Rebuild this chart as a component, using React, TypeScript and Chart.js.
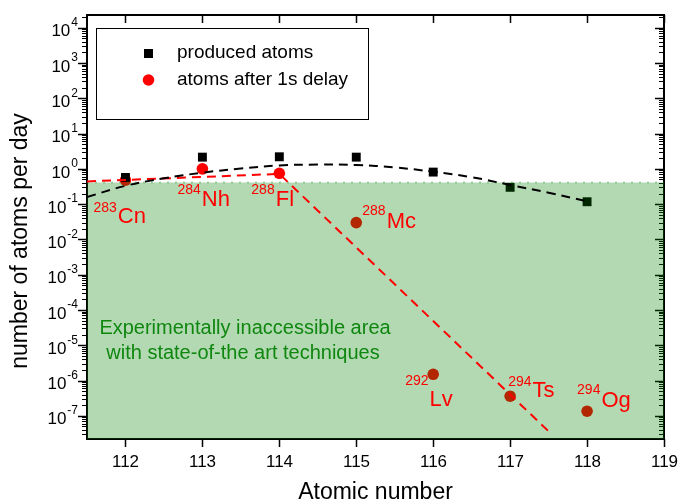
import React, { useEffect, useRef } from 'react';
import { Chart, registerables } from 'chart.js';

Chart.register(...registerables);

// ---- data ----
const elements = [112, 113, 114, 115, 116, 117, 118];
const producedAtoms = [0.57, 2.15, 2.2, 2.15, 0.81, 0.3, 0.117];
const delayedAtoms = [0.48, 1.0, 0.75, 0.03, 1.5e-6, 3.6e-7, 1.35e-7];
const isotopeMass = ['283', '284', '288', '288', '292', '294', '294'];
const isotopeSymbol = ['Cn', 'Nh', 'Fl', 'Mc', 'Lv', 'Ts', 'Og'];

const trendX = [111.5, 112, 112.5, 113, 113.5, 114, 114.5, 115, 115.5, 116, 116.5, 117, 117.5, 118];
const trendY = [0.16, 0.33, 0.54, 0.78, 1.02, 1.25, 1.32, 1.29, 1.1, 0.83, 0.58, 0.35, 0.21, 0.12];

const delayTrendX = [111.5, 114, 117.52];
const delayTrendY = [0.44, 0.72, 3.3e-8];

const limitX = [111.5, 119];
const limitY = [0.41, 0.41];

const xTicks = [112, 113, 114, 115, 116, 117, 118, 119];
const yExponents = [-7, -6, -5, -4, -3, -2, -1, 0, 1, 2, 3, 4];

const legendLabels = ['produced atoms', 'atoms after 1s delay'];
const areaText = ['Experimentally inaccessible area', 'with state-of-the art techniques'];
const xTitle = 'Atomic number';
const yTitle = 'number of atoms per day';

// label layout offsets (pixels, relative to the delayed-atom point): [supDx, supDy, baseDy]
const labelOffsets = [
  [-32, 28, 43],
  [-25, 21, 37],
  [-28, 17, 33],
  [6, -11, 5],
  [-28, 7, 32],
  [-2, -14, 1],
  [-10, -21, -4],
];

const FONT = '"Liberation Sans", Arial, sans-serif';

const overlayPlugin = {
  id: 'overlay',
  beforeDatasetsDraw(chart: any) {
    const ctx = chart.ctx as CanvasRenderingContext2D;
    const { left, right, top, bottom } = chart.chartArea;
    const xs = chart.scales.x;
    const ys = chart.scales.y;
    ctx.save();
    ctx.strokeStyle = '#000';
    ctx.lineWidth = 2;
    ctx.strokeRect(left, top, right - left, bottom - top);

    ctx.lineWidth = 1.5;
    ctx.fillStyle = '#000';
    ctx.font = `17px ${FONT}`;
    ctx.textAlign = 'center';
    ctx.textBaseline = 'middle';
    xTicks.forEach((v) => {
      const px = Math.round(xs.getPixelForValue(v)) + 0.5;
      ctx.beginPath();
      ctx.moveTo(px, bottom);
      ctx.lineTo(px, bottom + 8);
      ctx.moveTo(px, top);
      ctx.lineTo(px, top + 8);
      ctx.stroke();
      ctx.fillText(String(v), px, bottom + 23);
    });

    ctx.lineWidth = 1;
    for (let e = -8; e <= 4; e++) {
      for (let m = 1; m <= 9; m++) {
        const v = m * Math.pow(10, e);
        if (v < ys.min || v > ys.max) continue;
        const py = Math.round(ys.getPixelForValue(v)) + 0.5;
        const len = m === 1 ? 9 : 5;
        ctx.lineWidth = m === 1 ? 1.5 : 1;
        ctx.beginPath();
        ctx.moveTo(left - len, py);
        ctx.lineTo(left, py);
        ctx.moveTo(right, py);
        ctx.lineTo(right - len, py);
        ctx.stroke();
      }
    }

    yExponents.forEach((e) => {
      const py = ys.getPixelForValue(Math.pow(10, e));
      const sup = String(e).replace('-', '-');
      ctx.font = `12px ${FONT}`;
      const supW = ctx.measureText(sup).width;
      ctx.textAlign = 'right';
      ctx.fillText(sup, 78, py - 5);
      ctx.font = `17px ${FONT}`;
      ctx.fillText('10', 78 - supW - 1, py + 4);
    });

    ctx.font = `23px ${FONT}`;
    ctx.textAlign = 'center';
    ctx.fillText(xTitle, (left + right) / 2, 493);
    ctx.save();
    ctx.translate(21, 241);
    ctx.rotate(-Math.PI / 2);
    ctx.fillText(yTitle, 0, 0);
    ctx.restore();
    ctx.restore();
  },
  afterDatasetsDraw(chart: any) {
    const ctx = chart.ctx as CanvasRenderingContext2D;
    const xs = chart.scales.x;
    const ys = chart.scales.y;
    ctx.save();
    // element labels
    ctx.fillStyle = '#ff0000';
    elements.forEach((el, i) => {
      const px = xs.getPixelForValue(el);
      const py = ys.getPixelForValue(delayedAtoms[i]);
      const [dx, dsup, dbase] = labelOffsets[i];
      ctx.font = `14px ${FONT}`;
      ctx.textAlign = 'left';
      ctx.textBaseline = 'middle';
      ctx.fillText(isotopeMass[i], px + dx, py + dsup);
      const w = ctx.measureText(isotopeMass[i]).width;
      ctx.font = `22px ${FONT}`;
      ctx.textBaseline = 'alphabetic';
      ctx.fillText(isotopeSymbol[i], px + dx + w + 1, py + dbase);
    });

    // area text
    ctx.fillStyle = '#0f870f';
    ctx.font = `20px ${FONT}`;
    ctx.textAlign = 'center';
    ctx.textBaseline = 'middle';
    ctx.fillText(areaText[0], 245, 328);
    ctx.fillText(areaText[1], 243, 353);

    // legend
    ctx.strokeStyle = '#000';
    ctx.lineWidth = 1;
    ctx.strokeRect(96.5, 28.5, 272, 91);
    ctx.fillStyle = '#000';
    ctx.fillRect(144, 49, 9, 9);
    ctx.fillStyle = '#ff0000';
    ctx.beginPath();
    ctx.arc(148.5, 80, 5.8, 0, Math.PI * 2);
    ctx.fill();
    ctx.fillStyle = '#000';
    ctx.font = `19px ${FONT}`;
    ctx.textAlign = 'left';
    ctx.fillText(legendLabels[0], 177, 53);
    ctx.fillText(legendLabels[1], 177, 80);
    ctx.restore();
  },
};

export default function App() {
  const ref = useRef<HTMLCanvasElement>(null);
  useEffect(() => {
    if (!ref.current) return;
    const chart = new Chart(ref.current, {
      type: 'scatter',
      data: {
        datasets: [
          {
            label: legendLabels[0],
            data: elements.map((x, i) => ({ x, y: producedAtoms[i] })),
            pointStyle: 'rect',
            pointRadius: 6.3,
            backgroundColor: '#000',
            borderWidth: 0,
            order: 3,
          },
          {
            label: legendLabels[1],
            data: elements.map((x, i) => ({ x, y: delayedAtoms[i] })),
            pointStyle: 'circle',
            pointRadius: 5.8,
            backgroundColor: '#ff0000',
            borderWidth: 0,
            order: 3,
          },
          {
            label: 'limit',
            data: limitX.map((x, i) => ({ x, y: limitY[i] })),
            showLine: true,
            fill: 'start',
            backgroundColor: 'rgba(0,128,0,0.3)',
            borderColor: 'rgba(0,128,0,0.3)',
            borderDash: [2, 6],
            borderWidth: 2,
            pointRadius: 0,
            order: 2,
          },
          {
            label: 'trend',
            data: trendX.map((x, i) => ({ x, y: trendY[i] })),
            showLine: true,
            borderColor: '#000',
            borderDash: [9, 6],
            borderWidth: 2,
            tension: 0.4,
            pointRadius: 0,
            order: 1,
          },
          {
            label: 'delay trend',
            data: delayTrendX.map((x, i) => ({ x, y: delayTrendY[i] })),
            showLine: true,
            borderColor: '#ff0000',
            borderDash: [9, 6],
            borderWidth: 2,
            tension: 0,
            pointRadius: 0,
            order: 1,
          },
        ],
      },
      options: {
        responsive: false,
        devicePixelRatio: 1,
        animation: false,
        layout: { padding: { left: 87, right: 16, top: 15, bottom: 65 } },
        scales: {
          x: { type: 'linear', min: 111.5, max: 119, display: false },
          y: { type: 'logarithmic', min: 2.2e-8, max: 2.3e4, display: false },
        },
        plugins: {
          legend: { display: false },
          tooltip: { enabled: false },
        },
      },
      plugins: [overlayPlugin],
    } as any);
    return () => chart.destroy();
  }, []);
  return (
    <div style={{ position: 'fixed', left: 0, top: 0, width: 680, height: 504, background: '#fff' }}>
      <canvas ref={ref} width={680} height={504} />
    </div>
  );
}
